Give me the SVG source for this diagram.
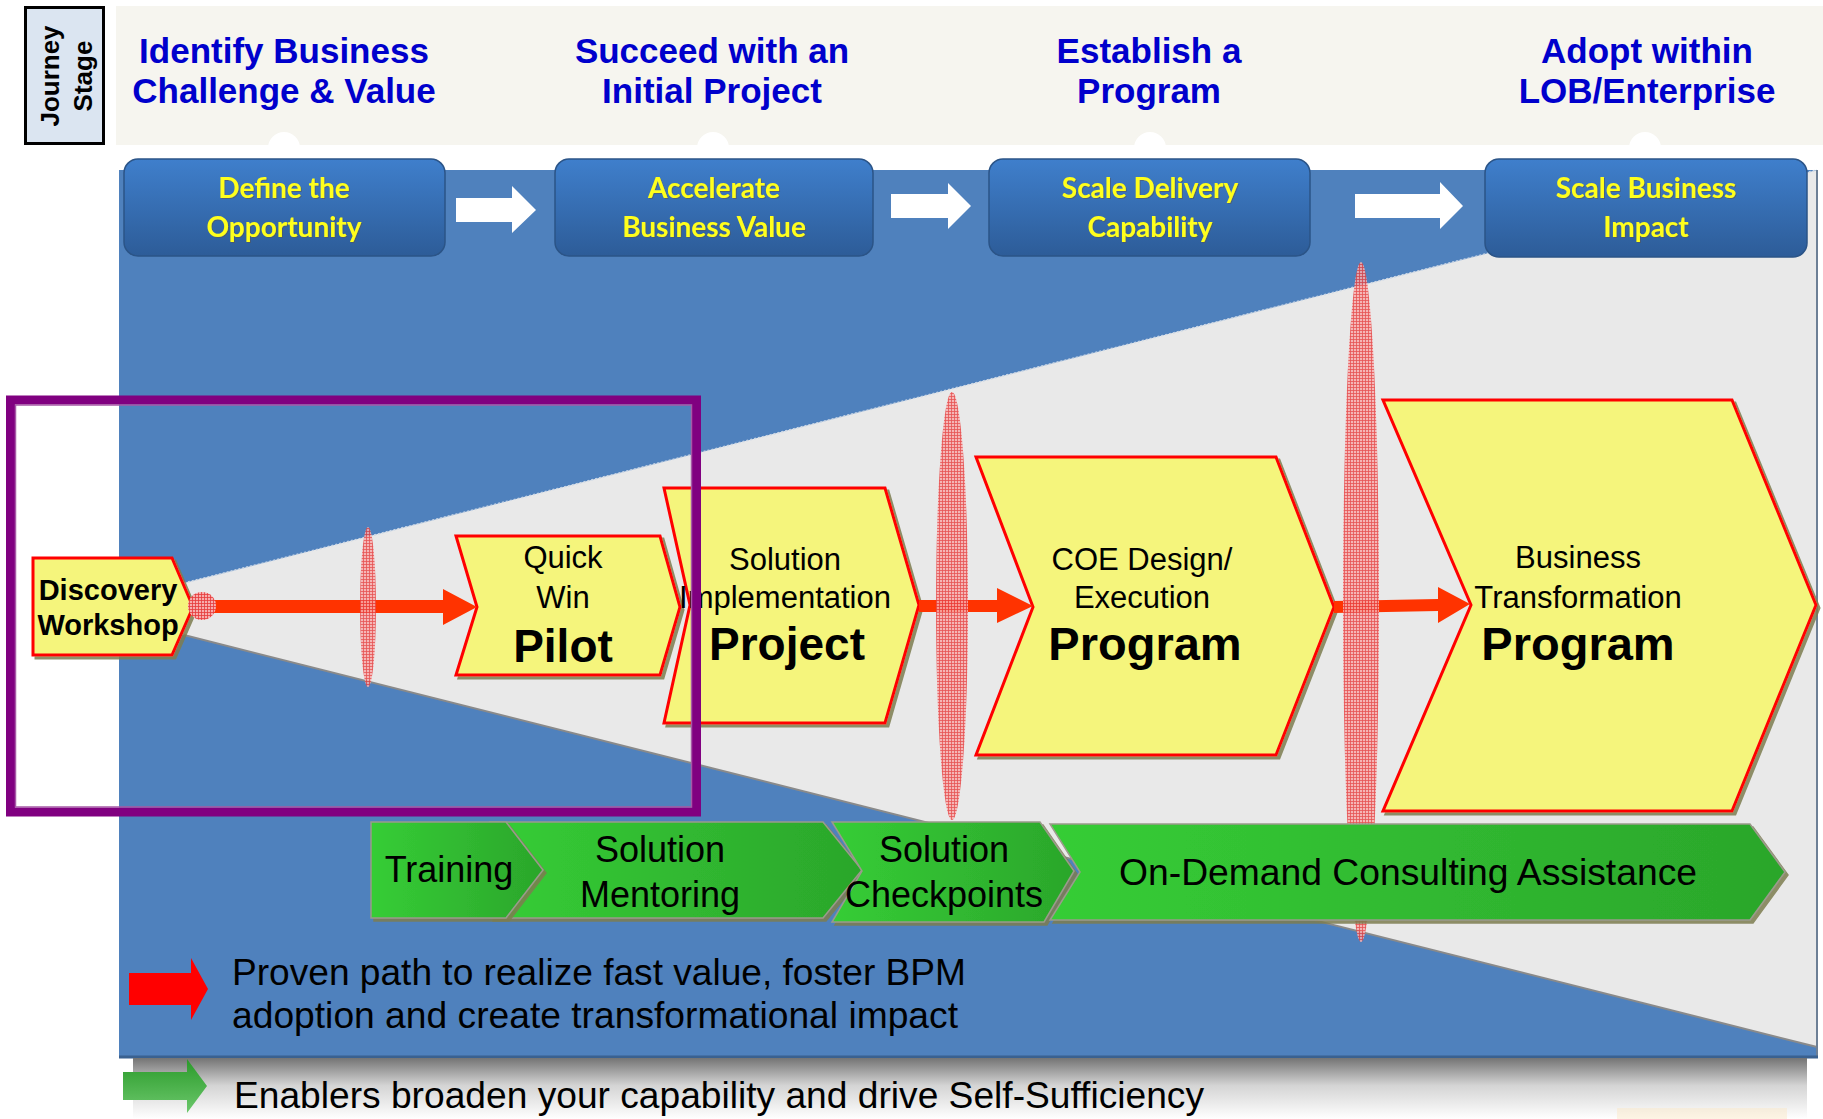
<svg xmlns="http://www.w3.org/2000/svg" width="1823" height="1119" viewBox="0 0 1823 1119">
<defs>
  <linearGradient id="boxGrad" x1="0" y1="0" x2="0" y2="1">
    <stop offset="0" stop-color="#3f7fcc"/>
    <stop offset="1" stop-color="#2d5c98"/>
  </linearGradient>
  <linearGradient id="greenGrad" x1="0" y1="0" x2="1" y2="0">
    <stop offset="0" stop-color="#36cd36"/>
    <stop offset="1" stop-color="#2ba62b"/>
  </linearGradient>
  <linearGradient id="legendGreen" x1="0" y1="0" x2="0" y2="1">
    <stop offset="0" stop-color="#2a9a2a"/>
    <stop offset="1" stop-color="#6cc86c"/>
  </linearGradient>
  <linearGradient id="shadowBand" x1="0" y1="0" x2="0" y2="1">
    <stop offset="0" stop-color="#747474"/>
    <stop offset="0.45" stop-color="#d4d4d4"/>
    <stop offset="1" stop-color="#ffffff"/>
  </linearGradient>
  <pattern id="hatch" width="3" height="3" patternUnits="userSpaceOnUse">
    <rect width="3" height="3" fill="#f7adad"/>
    <path d="M0 0.5H3M0.5 0V3" stroke="#e63a3a" stroke-width="0.8"/>
  </pattern>
  <filter id="shadow" x="-5%" y="-5%" width="115%" height="115%">
    <feDropShadow dx="3" dy="3" stdDeviation="0.6" flood-color="#7d7d50" flood-opacity="0.85"/>
  </filter>
  <filter id="txtShadow" x="-5%" y="-10%" width="110%" height="130%">
    <feDropShadow dx="1" dy="1" stdDeviation="0.5" flood-color="#555" flood-opacity="0.6"/>
  </filter>
  <style>
    .hdr { font-family: "Liberation Sans", Arial, sans-serif; font-weight: bold; font-size: 35px; fill: #0000cc; text-anchor: middle; }
    .js { font-family: "Liberation Sans", Arial, sans-serif; font-weight: bold; font-size: 26px; fill: #000; text-anchor: middle; }
    .stgbox { fill: url(#boxGrad); stroke: #2b5487; stroke-width: 1.5; }
    .stg { font-family: Lato, "Liberation Sans", sans-serif; font-weight: bold; font-size: 28px; fill: #ffff1a; text-anchor: middle; filter: url(#txtShadow); }
    .warrow { fill: #ffffff; }
    .chev { fill: #f5f57b; stroke: #ff0000; stroke-width: 3; filter: url(#shadow); }
    .lbl { font-family: "Liberation Sans", Arial, sans-serif; font-size: 31px; fill: #000; text-anchor: middle; }
    .big { font-family: "Liberation Sans", Arial, sans-serif; font-size: 47px; font-weight: bold; fill: #000; text-anchor: middle; }
    .dw { font-family: "Liberation Sans", Arial, sans-serif; font-size: 29px; font-weight: bold; fill: #000; text-anchor: middle; }
    .grn { fill: url(#greenGrad); stroke: #9b9b8b; stroke-width: 1.5; filter: url(#shadow); }
    .gl { font-family: "Liberation Sans", Arial, sans-serif; font-size: 36px; fill: #000; text-anchor: middle; }
    .leg { font-family: "Liberation Sans", Arial, sans-serif; font-size: 36px; fill: #000; }
    .hatch { fill: url(#hatch); opacity: 0.85; }
    .red { fill: #ff3300; }
  </style>
</defs>

<rect width="1823" height="1119" fill="#ffffff"/>

<!-- Banner -->
<rect x="116" y="6" width="1707" height="139" fill="#f6f5ef"/>
<g fill="#ffffff">
  <circle cx="284" cy="148" r="16"/>
  <circle cx="713" cy="148" r="16"/>
  <circle cx="1150" cy="148" r="16"/>
  <circle cx="1645" cy="148" r="16"/>
</g>

<!-- Main blue area and funnel -->
<rect x="119" y="170" width="1698" height="887" fill="#4f81bd"/>
<polygon points="180,584 1817,170 1817,1047 180,634" fill="#e9e9e9"/>
<line x1="184" y1="635" x2="1817" y2="1047" stroke="#8a8a8a" stroke-width="2"/>
<line x1="184" y1="583" x2="1817" y2="170" stroke="#c9d6e6" stroke-width="1.5" stroke-dasharray="2 2"/>
<line x1="1817" y1="170" x2="1817" y2="1057" stroke="#6d7f95" stroke-width="2"/>
<line x1="119" y1="1057" x2="1818" y2="1057" stroke="#3a6190" stroke-width="3"/>

<!-- Journey stage label -->
<g id="journey-stage">
  <rect x="25.5" y="7.5" width="78" height="136" fill="#dbe5f1" stroke="#000" stroke-width="3"/>
  <text class="js" transform="translate(59,76) rotate(-90)">Journey</text>
  <text class="js" transform="translate(92,76) rotate(-90)">Stage</text>
</g>

<!-- Headers -->
<g id="header-1"><text class="hdr" x="284" y="63">Identify Business</text><text class="hdr" x="284" y="103">Challenge &amp; Value</text></g>
<g id="header-2"><text class="hdr" x="712" y="63">Succeed with an</text><text class="hdr" x="712" y="103">Initial Project</text></g>
<g id="header-3"><text class="hdr" x="1149" y="63">Establish a</text><text class="hdr" x="1149" y="103">Program</text></g>
<g id="header-4"><text class="hdr" x="1647" y="63">Adopt within</text><text class="hdr" x="1647" y="103">LOB/Enterprise</text></g>

<!-- Stage boxes -->
<g id="stage-1"><rect class="stgbox" x="124" y="159" width="321" height="97" rx="14"/><text class="stg" x="284" y="198">Define the</text><text class="stg" x="284" y="237">Opportunity</text></g>
<g id="stage-2"><rect class="stgbox" x="555" y="159" width="318" height="97" rx="14"/><text class="stg" x="714" y="198">Accelerate</text><text class="stg" x="714" y="237">Business Value</text></g>
<g id="stage-3"><rect class="stgbox" x="989" y="159" width="321" height="97" rx="14"/><text class="stg" x="1150" y="198">Scale Delivery</text><text class="stg" x="1150" y="237">Capability</text></g>
<g id="stage-4"><rect class="stgbox" x="1485" y="159" width="322" height="98" rx="14"/><text class="stg" x="1646" y="198">Scale Business</text><text class="stg" x="1646" y="237">Impact</text></g>

<!-- Nodes -->
<g id="discovery-workshop">
  <polygon class="chev" points="33,558 172,558 193,607 172,655 33,655"/>
  <text class="dw" x="108" y="600">Discovery</text>
  <text class="dw" x="108" y="635">Workshop</text>
</g>
<g id="pilot">
  <polygon class="chev" points="456,536 660,536 680,607 660,675 456,675 477,607"/>
  <text class="lbl" x="563" y="568">Quick</text>
  <text class="lbl" x="563" y="608">Win</text>
  <text class="big" x="563" y="662" style="font-size:46px">Pilot</text>
</g>
<g id="project">
  <polygon class="chev" points="664,488 885,488 919,605 885,723 664,723 690,605"/>
  <text class="lbl" x="785" y="570">Solution</text>
  <text class="lbl" x="785" y="608">Implementation</text>
  <text class="big" x="787" y="660" style="font-size:46px">Project</text>
</g>
<g id="coe-program">
  <polygon class="chev" points="976,457 1276,457 1334,607 1276,755 976,755 1033,607"/>
  <text class="lbl" x="1142" y="570">COE Design/</text>
  <text class="lbl" x="1142" y="608">Execution</text>
  <text class="big" x="1145" y="660">Program</text>
</g>
<g id="bt-program">
  <polygon class="chev" points="1383,400 1732,400 1816,605 1732,811 1383,811 1471,605"/>
  <text class="lbl" x="1578" y="568">Business</text>
  <text class="lbl" x="1578" y="608">Transformation</text>
  <text class="big" x="1578" y="660">Program</text>
</g>

<!-- Connectors -->
<g id="connectors">
  <polygon class="warrow" points="456,198 512,198 512,186 536,210 512,233 512,222 456,222"/>
  <polygon class="warrow" points="891,194 948,194 948,183 971,206 948,229 948,218 891,218"/>
  <polygon class="warrow" points="1355,194 1440,194 1440,182 1463,206 1440,229 1440,218 1355,218"/>
  <polygon class="red" points="212,600 443,600 443,589 477,607 443,625 443,613 212,613"/>
  <polygon class="red" points="919,600 997,600 997,588 1033,606 997,623 997,612 919,612"/>
  <polygon class="red" points="1334,601 1438,599 1438,587 1470,604 1438,623 1438,611 1334,613"/>
</g>

<!-- Hatched gates -->
<circle class="hatch" cx="202" cy="606" r="14" style="opacity:1"/>
<ellipse class="hatch" cx="368" cy="607" rx="8" ry="80"/>
<ellipse class="hatch" cx="952" cy="606" rx="16" ry="214"/>
<ellipse class="hatch" cx="1361" cy="602" rx="18" ry="340"/>

<!-- Purple highlight box -->
<rect x="10.5" y="400" width="686" height="412" fill="none" stroke="#800080" stroke-width="9"/>
<rect x="15.5" y="405" width="676" height="402" fill="none" stroke="#a65aa6" stroke-width="1.5"/>

<!-- Enablers -->
<g id="mentoring">
  <polygon class="grn" points="490,822 823,822 862,870 823,918 490,918"/>
  <text class="gl" x="660" y="862">Solution</text>
  <text class="gl" x="660" y="907">Mentoring</text>
</g>
<g id="training">
  <polygon class="grn" points="371,822 506,822 543,870 506,918 371,918"/>
  <text class="gl" x="449" y="882">Training</text>
</g>
<g id="checkpoints">
  <polygon class="grn" points="832,822 1040,822 1074,871 1044,922 832,922 862,871"/>
  <text class="gl" x="944" y="862">Solution</text>
  <text class="gl" x="944" y="907">Checkpoints</text>
</g>
<g id="on-demand">
  <polygon class="grn" points="1050,824 1750,824 1785,872 1750,920 1050,920 1080,872"/>
  <text class="gl" x="1408" y="885" textLength="578" lengthAdjust="spacingAndGlyphs">On-Demand Consulting Assistance</text>
</g>

<!-- Shadow band -->
<rect x="133" y="1058" width="1674" height="61" fill="url(#shadowBand)"/>
<rect x="1617" y="1108" width="170" height="11" fill="#fbe6c4" opacity="0.45"/>

<!-- Legend -->
<g id="legend-red">
  <polygon points="129,973 191,973 191,958 208,989 191,1020 191,1005 129,1005" fill="#ff0000"/>
  <text class="leg" x="232" y="985" textLength="734" lengthAdjust="spacingAndGlyphs">Proven path to realize fast value, foster BPM</text>
  <text class="leg" x="232" y="1028" textLength="726" lengthAdjust="spacingAndGlyphs">adoption and create transformational impact</text>
</g>
<g id="legend-green">
  <polygon points="123,1072 187,1072 187,1059 207,1086 187,1113 187,1100 123,1100" fill="url(#legendGreen)"/>
  <text class="leg" x="234" y="1108" textLength="970" lengthAdjust="spacingAndGlyphs">Enablers broaden your capability and drive Self-Sufficiency</text>
</g>
</svg>
